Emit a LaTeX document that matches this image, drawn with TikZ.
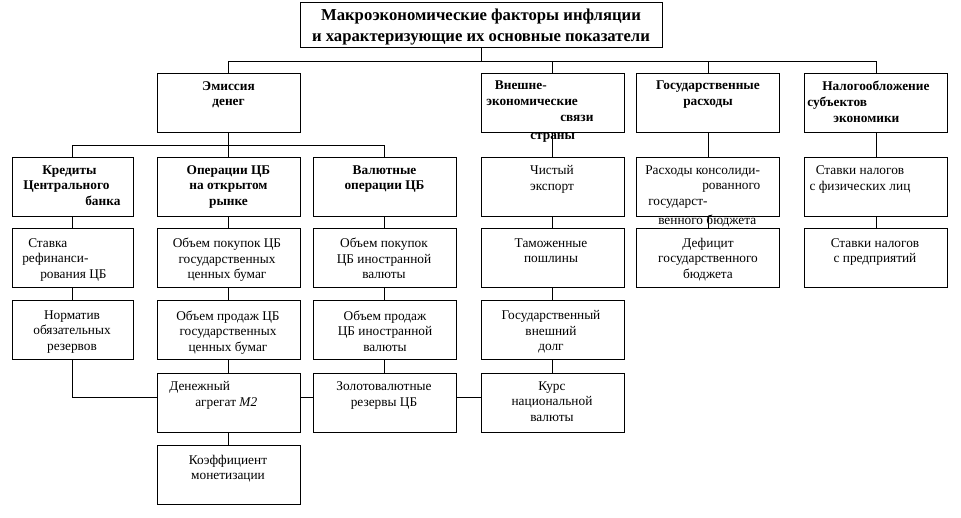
\documentclass[tikz,border=0pt]{standalone}
\usepackage{fontspec}
\setmainfont{Liberation Serif}
\begin{document}
\begin{tikzpicture}[x=0.75pt,y=-0.75pt,
  bx/.style={draw, line width=0.75pt, minimum width=107.25pt, minimum height=44.25pt, inner sep=0pt},
  bxn/.style={bx, minimum width=90.75pt},
  tx/.style={inner sep=0pt, font=\fontsize{10}{11.6}\selectfont, align=center, anchor=north},
  tb/.style={tx, font=\fontsize{10}{11.8}\selectfont\bfseries},
  tl/.style={tx, align=left, anchor=north west},
  tbl/.style={tb, align=left, anchor=north west},
  ln/.style={line width=0.75pt}]
\fill[white] (0,0) rectangle (961,518);
\useasboundingbox (0,0) rectangle (961,518);
% title
\node[draw, line width=0.75pt, minimum width=271.5pt, minimum height=33.75pt, inner sep=0pt] (title) at (481,24.5) {};
\node[tx, font=\fontsize{12.5}{15.75}\selectfont\bfseries] (titleT) at (481,8.5) {Макроэкономические факторы инфляции\\и характеризующие их основные показатели};
% row 1
\node[bx] (emis) at (228.5,102.5) {};
\node[bx] (vnesh) at (552.5,102.5) {};
\node[bx] (gosr) at (708,102.5) {};
\node[bx] (nalog) at (876,102.5) {};
\node[tb] (emisT) at (228.5,81) {Эмиссия\\денег};
\node[tbl] (vneshT) at (484,81) {\hspace*{8pt}Внешне-\\\hspace*{1.5pt}экономические\\\hspace*{57pt}связи\\[1.5pt]\hspace*{34.5pt}страны};
\node[tb] (gosrT) at (708,81) {Государственные\\расходы};
\node[tbl] (nalogT) at (807,81) {\hspace*{11.25pt}Налогообложение\\субъектов\\\hspace*{19.5pt}экономики};
% row 2
\node[bxn] (kred) at (72.5,186.5) {};
\node[bx] (oper) at (228.5,186.5) {};
\node[bx] (val) at (384.5,186.5) {};
\node[bx] (chist) at (552.5,186.5) {};
\node[bx] (rash) at (708,186.5) {};
\node[bx] (fiz) at (876,186.5) {};
\node[tbl] (kredT) at (23,165) {\hspace*{14.25pt}Кредиты\\Центрального\\\hspace*{46.5pt}банка};
\node[tb] (operT) at (228.5,165) {Операции ЦБ\\на открытом\\рынке};
\node[tb] (valT) at (384.5,165) {Валютные\\операции ЦБ};
\node[tx] (chistT) at (552,165.5) {Чистый\\экспорт};
\node[tl] (rashT) at (645,165.5) {Расходы консолиди-\\\hspace*{42.75pt}рованного\\\hspace*{2.25pt}государст-\\[2.5pt]\hspace*{9.75pt}венного бюджета};
\node[tx] (fizT) at (860,165.5) {Ставки налогов\\с физических лиц};
% row 3
\node[bxn] (stav) at (72.5,258) {};
\node[bx] (pokG) at (228.5,258) {};
\node[bx] (pokV) at (384.5,258) {};
\node[bx] (tam) at (552.5,258) {};
\node[bx] (def) at (708,258) {};
\node[bx] (pred) at (876,258) {};
\node[tl] (stavT) at (22,238) {\hspace*{4.5pt}Ставка\\рефинанси-\\\hspace*{13.5pt}рования ЦБ};
\node[tx] (pokGT) at (227,238) {Объем покупок ЦБ\\государственных\\ценных бумаг};
\node[tx] (pokVT) at (384,238) {Объем покупок\\ЦБ иностранной\\валюты};
\node[tx] (tamT) at (551,238) {Таможенные\\пошлины};
\node[tx] (defT) at (708,238) {Дефицит\\государственного\\бюджета};
\node[tx] (predT) at (875,238) {Ставки налогов\\с предприятий};
% row 4
\node[bxn] (norm) at (72.5,329.5) {};
\node[bx] (prodG) at (228.5,329.5) {};
\node[bx] (prodV) at (384.5,329.5) {};
\node[bx] (dolg) at (552.5,329.5) {};
\node[tx] (normT) at (72,310.5) {Норматив\\обязательных\\резервов};
\node[tx] (prodGT) at (228,310.5) {Объем продаж ЦБ\\государственных\\ценных бумаг};
\node[tx] (prodVT) at (385,310.5) {Объем продаж\\ЦБ иностранной\\валюты};
\node[tx] (dolgT) at (551,310.5) {Государственный\\внешний\\долг};
% row 5
\node[bx] (m2) at (228.5,402.5) {};
\node[bx] (zol) at (384.5,402.5) {};
\node[bx] (kurs) at (552.5,402.5) {};
\node[tl] (m2T) at (169,381.5) {Денежный\\\hspace*{19.5pt}агрегат \textit{М2}};
\node[tx] (zolT) at (384,381.5) {Золотовалютные\\резервы ЦБ};
\node[tx] (kursT) at (552,381.5) {Курс\\национальной\\валюты};
% row 6
\node[bx] (koef) at (228.5,474.5) {};
\node[tx] (koefT) at (228,454.5) {Коэффициент\\монетизации};
% connectors
\coordinate (bus1) at (481,61);
\coordinate (bus2) at (228.5,145);
\coordinate (h5) at (0,397);
\draw[ln] (title.south) -- (bus1);
\draw[ln] (emis.north) |- (bus1);
\draw[ln] (nalog.north) |- (bus1);
\draw[ln] (vnesh.north) -- (vnesh.north |- bus1);
\draw[ln] (gosr.north) -- (gosr.north |- bus1);
\draw[ln] (emis.south) -- (bus2);
\draw[ln] (kred.north) |- (bus2);
\draw[ln] (val.north) |- (bus2);
\draw[ln] (bus2) -- (oper.north);
\draw[ln] (kred) -- (stav);
\draw[ln] (stav) -- (norm);
\draw[ln] (oper) -- (pokG);
\draw[ln] (pokG) -- (prodG);
\draw[ln] (prodG) -- (m2);
\draw[ln] (m2) -- (koef);
\draw[ln] (val) -- (pokV);
\draw[ln] (pokV) -- (prodV);
\draw[ln] (prodV) -- (zol);
\draw[ln] (vnesh) -- (chist);
\draw[ln] (chist) -- (tam);
\draw[ln] (tam) -- (dolg);
\draw[ln] (dolg) -- (kurs);
\draw[ln] (gosr) -- (rash);
\draw[ln] (rash) -- (def);
\draw[ln] (nalog) -- (fiz);
\draw[ln] (fiz) -- (pred);
\draw[ln] (norm.south) |- (m2.west |- h5);
\draw[ln] (m2.east |- h5) -- (zol.west |- h5);
\draw[ln] (zol.east |- h5) -- (kurs.west |- h5);
\end{tikzpicture}
\end{document}
